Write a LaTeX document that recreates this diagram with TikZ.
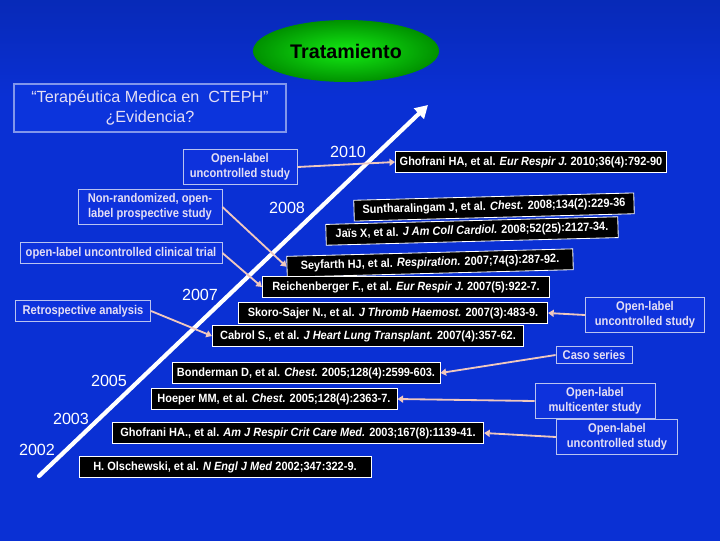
\documentclass[tikz,border=0pt]{standalone}
\usepackage{fontspec}
\setmainfont{Liberation Sans}
\newfontfamily\narrowfont[FakeStretch=0.88]{Liberation Sans}
\newfontfamily\citefont[FakeStretch=0.92]{Liberation Sans}
\usetikzlibrary{arrows.meta,shapes.geometric}
\definecolor{bgdark}{RGB}{0,24,105}
\definecolor{bgbottom}{RGB}{0,22,100}
\definecolor{bgmid}{RGB}{10,48,212}
\definecolor{studyfill}{RGB}{14,50,220}
\definecolor{studyedge}{RGB}{185,195,240}
\definecolor{studytext}{RGB}{228,222,245}
\definecolor{linkpink}{RGB}{240,200,190}
\definecolor{titlefill}{RGB}{12,52,220}
\definecolor{titleedge}{RGB}{130,150,235}
\definecolor{trgreen}{RGB}{20,235,20}
\definecolor{trdark}{RGB}{0,145,0}
\pgfdeclareverticalshading{bgshade}{100bp}{color(0bp)=(bgbottom); color(24bp)=(bgmid);
  color(66bp)=(bgmid); color(100bp)=(bgdark)}

\begin{document}
\begin{tikzpicture}[x=0.025cm,y=-0.025cm,
    studybox/.style={draw=studyedge, fill=studyfill, text=studytext, line width=0.6pt,
      font=\narrowfont\bfseries\fontsize{9}{10.5}\selectfont, align=center, inner sep=3pt},
    citebox/.style={draw=white, fill=black, text=white, line width=0.6pt,
      font=\citefont\bfseries\fontsize{8.5}{9.5}\selectfont, inner sep=3pt, minimum height=0.52cm},
    yearlbl/.style={text=white, font=\fontsize{11.5}{12}\selectfont},
    link/.style={draw=linkpink, line width=1.3pt, -{Triangle[length=4pt,width=5pt]}}]
    % Background
    \shade[shading=bgshade] (0,0) rectangle (720,540);

    % Title and question
    \node[ellipse, shading=radial, inner color=trgreen, outer color=trdark,
          minimum width=4.65cm, minimum height=1.55cm,
          font=\bfseries\fontsize{14}{16}\selectfont] (trat) at (346,51) {Tratamiento};
    \node[draw=titleedge, line width=1.8pt, fill=titlefill, text=studytext, align=center,
          minimum width=6.8cm, minimum height=1.2cm,
          font=\fontsize{11.5}{14}\selectfont] (quest) at (150,108)
      {``Terapéutica Medica en\ \ CTEPH''\\¿Evidencia?};

    % Timeline
    \coordinate (tlstart) at (39,476);
    \coordinate (tlend) at (428,105);
    \draw[white, line width=3pt, line cap=round, -{Triangle[length=9pt,width=10pt]}] (tlstart) -- (tlend);

    % Years
    \node[yearlbl] (y2010) at (348,152) {2010};
    \node[yearlbl] (y2008) at (287,208) {2008};
    \node[yearlbl] (y2007) at (200,295) {2007};
    \node[yearlbl] (y2005) at (109,381) {2005};
    \node[yearlbl] (y2003) at (71,419) {2003};
    \node[yearlbl] (y2002) at (37,450) {2002};

    % References
    \node[citebox, minimum width=6.7cm] (cite2010) at (531,162)
      {Ghofrani HA, et al. \textit{Eur Respir J.} 2010;36(4):792-90};
    \node[citebox, minimum width=7cm, rotate=1.5] (cite2008a) at (494,207)
      {Suntharalingam J, et al. \textit{Chest.} 2008;134(2):229-36};
    \node[citebox, minimum width=7.3cm, rotate=1.5] (cite2008b) at (472,231)
      {Jaïs X, et al. \textit{J Am Coll Cardiol.} 2008;52(25):2127-34.};
    \node[citebox, minimum width=7.15cm, rotate=1.5] (cite2007a) at (430,263)
      {Seyfarth HJ, et al. \textit{Respiration.} 2007;74(3):287-92.};
    \node[citebox, minimum width=7.18cm] (cite2007b) at (406,287)
      {Reichenberger F., et al. \textit{Eur Respir J.} 2007(5):922-7.};
    \node[citebox, minimum width=7.73cm] (cite2007c) at (393,313)
      {Skoro-Sajer N., et al. \textit{J Thromb Haemost.} 2007(3):483-9.};
    \node[citebox, minimum width=7.78cm] (cite2007d) at (368,336)
      {Cabrol S., et al. \textit{J Heart Lung Transplant.} 2007(4):357-62.};
    \node[citebox, minimum width=6.7cm] (cite2005a) at (306,373)
      {Bonderman D, et al. \textit{Chest.} 2005;128(4):2599-603.};
    \node[citebox, minimum width=6.15cm] (cite2005b) at (274,399)
      {Hoeper MM, et al. \textit{Chest.} 2005;128(4):2363-7.};
    \node[citebox, minimum width=9.28cm] (cite2003) at (298,433)
      {Ghofrani HA., et al. \textit{Am J Respir Crit Care Med.} 2003;167(8):1139-41.};
    \node[citebox, minimum width=7.3cm] (cite2002) at (225,467)
      {H. Olschewski, et al. \textit{N Engl J Med} 2002;347:322-9.};

    % Study types
    \node[studybox, minimum width=2.85cm] (olabel2010) at (240,167) {Open-label\\uncontrolled study};
    \node[studybox, minimum width=3.6cm] (nonrand) at (150,207) {Non-randomized, open-\\label prospective study};
    \node[studybox, minimum width=5.05cm] (olclinical) at (121,253) {open-label uncontrolled clinical trial};
    \node[studybox, minimum width=3.38cm] (retro) at (83,311) {Retrospective analysis};
    \node[studybox, minimum width=2.98cm] (olabel2007) at (645,315) {Open-label\\uncontrolled study};
    \node[studybox, minimum width=1.9cm] (caso) at (594,355) {Caso series};
    \node[studybox, minimum width=3cm] (multic) at (595,401) {Open-label\\multicenter study};
    \node[studybox, minimum width=3.03cm] (olabel2003) at (617,437) {Open-label\\uncontrolled study};

    % Connectors
    \draw[link] (olabel2010.east) -- (cite2010.west);
    \draw[link] (nonrand.east) -- (cite2007a.west);
    \draw[link] (olclinical.east) -- (cite2007b.west);
    \draw[link] (retro.east) -- (cite2007d.west);
    \draw[link] (olabel2007.west) -- (cite2007c.east);
    \draw[link] (caso.west) -- (cite2005a.east);
    \draw[link] (multic.west) -- (cite2005b.east);
    \draw[link] (olabel2003.west) -- (cite2003.east);
\end{tikzpicture}
\end{document}
